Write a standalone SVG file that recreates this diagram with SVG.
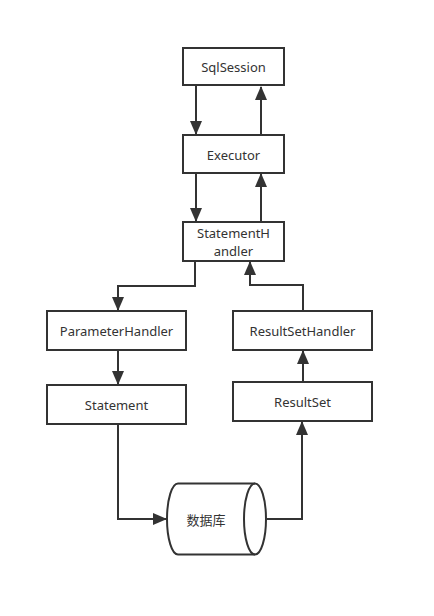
<svg xmlns="http://www.w3.org/2000/svg" width="434" height="616" viewBox="0 0 434 616">
<style>
.box{fill:#fff;stroke:#333;stroke-width:2}
.lbl{font-family:"Noto Sans","Open Sans","DejaVu Sans",sans-serif;font-size:13px;fill:#333;text-anchor:middle;dominant-baseline:central}
.cn{font-family:"Noto Sans CJK SC",sans-serif}
.edge{fill:none;stroke:#333;stroke-width:2}
</style>
<defs>
<marker id="ah" markerUnits="userSpaceOnUse" markerWidth="14" markerHeight="12" viewBox="0 0 14 12" refX="13" refY="6" orient="auto">
<path d="M0,0 L14,6 L0,12 Z" fill="#333"/>
</marker>
</defs>
<rect width="434" height="616" fill="#fff"/>
<g id="edges">
<path class="edge" d="M196,86 V134" marker-end="url(#ah)"/>
<path class="edge" d="M261,135 V87" marker-end="url(#ah)"/>
<path class="edge" d="M196,174 V221" marker-end="url(#ah)"/>
<path class="edge" d="M261,222 V174" marker-end="url(#ah)"/>
<path class="edge" d="M195,262 V286 H118 V310" marker-end="url(#ah)"/>
<path class="edge" d="M303,311 V285 H250 V262" marker-end="url(#ah)"/>
<path class="edge" d="M118,351 V384" marker-end="url(#ah)"/>
<path class="edge" d="M303,382 V351" marker-end="url(#ah)"/>
<path class="edge" d="M118,425 V519 H166" marker-end="url(#ah)"/>
<path class="edge" d="M267,519 H302 V422" marker-end="url(#ah)"/>
</g>
<g id="sqlsession">
<rect class="box" x="183" y="48" width="101" height="37"/>
<text class="lbl" x="233.5" y="67">SqlSession</text>
</g>
<g id="executor">
<rect class="box" x="183" y="135" width="101" height="38"/>
<text class="lbl" x="233.5" y="155">Executor</text>
</g>
<g id="statementhandler">
<rect class="box" x="183" y="222" width="101" height="39"/>
<text class="lbl" x="233.5" y="233">StatementH</text>
<text class="lbl" x="233.5" y="250.5">andler</text>
</g>
<g id="parameterhandler">
<rect class="box" x="47" y="311" width="139" height="39"/>
<text class="lbl" x="116.5" y="331">ParameterHandler</text>
</g>
<g id="statement">
<rect class="box" x="47" y="385" width="139" height="39"/>
<text class="lbl" x="116.5" y="405">Statement</text>
</g>
<g id="resultsethandler">
<rect class="box" x="233" y="311" width="139" height="39"/>
<text class="lbl" x="302.5" y="331">ResultSetHandler</text>
</g>
<g id="resultset">
<rect class="box" x="233" y="382" width="139" height="39"/>
<text class="lbl" x="302.5" y="402">ResultSet</text>
</g>
<g id="database">
<path class="box" d="M178,483.5 H255 A11,35.5 0 0 1 255,554.5 H178 A11,35.5 0 0 1 178,483.5 Z"/>
<path class="edge" d="M255,483.5 A11,35.5 0 0 0 255,554.5"/>
<text class="lbl cn" x="206" y="519">数据库</text>
</g>
</svg>
